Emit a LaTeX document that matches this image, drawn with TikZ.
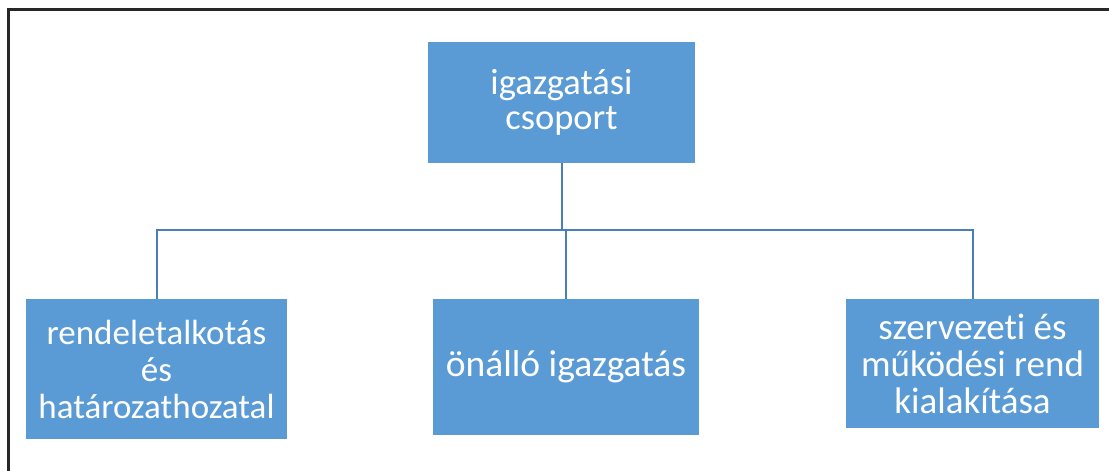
\documentclass[tikz,border=0pt]{standalone}
\usepackage{fontspec}
\setmainfont{Carlito}[Ligatures=NoCommon]
\definecolor{boxblue}{RGB}{91,155,213}
\definecolor{lineblue}{RGB}{74,126,187}
\definecolor{framegray}{RGB}{40,40,40}
\tikzset{
  unit/.style={draw=none,fill=boxblue,text=white,align=center,inner sep=2pt,
    font=\fontsize{37}{37}\selectfont},
  conn/.style={lineblue,line width=2pt}
}
\begin{document}
\begin{tikzpicture}[x=1pt,y=1pt]
  \useasboundingbox (0,0) rectangle (1109,-471);
  % frame (only top and left edges show)
  \draw[framegray,line width=3pt] (8,-471) -- (8,-9) -- (1109,-9);
  % boxes
  \node[unit,font=\fontsize{36.5}{35.5}\selectfont,minimum width=267,minimum height=121] (top) at (561.5,-102.5) {igazgatási\\csoport};
  \node[unit,font=\fontsize{35}{37}\selectfont,minimum width=261,minimum height=140] (left) at (156.5,-369) {rendeletalkotás\\és\\határozathozatal};
  \node[unit,font=\fontsize{37.5}{37}\selectfont,minimum width=266,minimum height=136] (mid) at (566,-367) {önálló igazgatás};
  \node[unit,minimum width=253,minimum height=129] (right) at (972.5,-363.5) {szervezeti és\\működési rend\\kialakítása};
  % connectors
  \coordinate (bus) at (0,-230);
  \draw[conn] (top.south) -- (top.south |- bus);
  \draw[conn] (left.north) -- (left.north |- bus) -| (right.north);
  \draw[conn] (mid.north) -- (mid.north |- bus);
\end{tikzpicture}
\end{document}
